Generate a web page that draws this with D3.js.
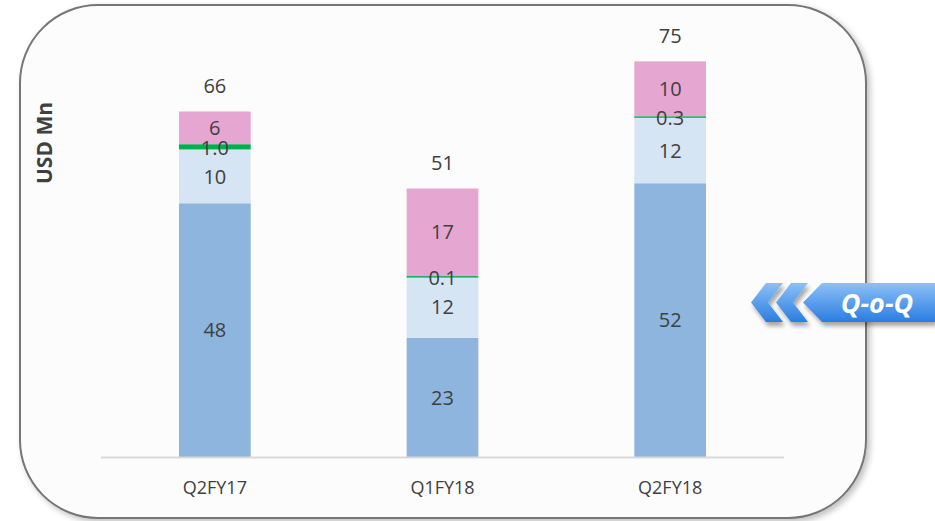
<!DOCTYPE html>
<html><head><meta charset="utf-8">
<script src="https://cdn.jsdelivr.net/npm/d3@7"></script>
<style>
html,body{margin:0;padding:0;background:#fff;}
svg{display:block;font-family:"Open Sans","Liberation Sans",sans-serif;}
</style></head>
<body>
<svg id="c" width="935" height="521"></svg>
<script>
const categories = ["Q2FY17", "Q1FY18", "Q2FY18"];
const seriesNames = ["s1", "s2", "s3", "s4"];
const s1 = [48.1, 22.6, 51.9];
const s2 = [10.2, 11.6, 12.4];
const s3 = [1.0, 0.1, 0.3];
const s4 = [6.2, 16.6, 10.4];
const decimals = [0, 0, 1, 0];
const colors = ["#8db5dd", "#d6e5f3", "#00b050", "#e5a6d2"];
const yTitle = "USD Mn";
const badgeText = "Q-o-Q";

const svg = d3.select("#c");
const defs = svg.append("defs");

// shadow filter
const f = defs.append("filter").attr("id","sh").attr("x","-10%").attr("y","-10%").attr("width","120%").attr("height","120%");
f.append("feGaussianBlur").attr("in","SourceAlpha").attr("stdDeviation",3).attr("result","b");
f.append("feOffset").attr("in","b").attr("dx",3).attr("dy",3).attr("result","o");
f.append("feComponentTransfer").attr("in","o").attr("result","o2").append("feFuncA").attr("type","linear").attr("slope",0.25);
const fm = f.append("feMerge"); fm.append("feMergeNode").attr("in","o2"); fm.append("feMergeNode").attr("in","SourceGraphic");

// frame
svg.append("rect").attr("x",20).attr("y",5).attr("width",846).attr("height",513)
  .attr("rx",78).attr("ry",78).attr("fill","#fcfcfc").attr("stroke","#767676").attr("stroke-width",2)
  .attr("filter","url(#sh)");

const x = d3.scaleBand().domain(categories).range([101, 784]).paddingInner(0.685).paddingOuter(0.3425);
const y = d3.scaleLinear().domain([0, 80]).range([457, 35]);

const data = categories.map((c,i)=>({cat:c, s1:s1[i], s2:s2[i], s3:s3[i], s4:s4[i]}));
const stack = d3.stack().keys(seriesNames)(data);

const g = svg.append("g");
stack.forEach((layer, li) => {
  g.selectAll(null).data(layer).enter().append("rect")
    .attr("x", d => x(d.data.cat))
    .attr("width", x.bandwidth())
    .attr("y", d => y(d[1]))
    .attr("height", d => Math.max(y(d[0]) - y(d[1]), li===2 ? 1.5 : 0))
    .attr("fill", colors[li]);
});

// axis baseline
svg.append("line").attr("x1",101).attr("x2",784).attr("y1",457.5).attr("y2",457.5)
  .attr("stroke","#d9d9d9").attr("stroke-width",2);

// segment labels
stack.forEach((layer, li) => {
  g.selectAll(null).data(layer).enter().append("text")
    .attr("x", d => x(d.data.cat) + x.bandwidth()/2)
    .attr("y", d => (y(d[0]) + y(d[1]))/2 + (li===2 ? 1 : 0))
    .attr("dy","0.36em")
    .attr("text-anchor","middle")
    .attr("font-size",20)
    .attr("fill","#404040")
    .text(d => (d[1]-d[0]).toFixed(decimals[li]));
});

// totals
g.selectAll(null).data(data).enter().append("text")
  .attr("x", d => x(d.cat) + x.bandwidth()/2)
  .attr("y", d => y(d.s1+d.s2+d.s3+d.s4) - 26)
  .attr("dy","0.36em")
  .attr("text-anchor","middle")
  .attr("font-size",20)
  .attr("fill","#404040")
  .text(d => Math.round(d.s1+d.s2+d.s3+d.s4));

// x axis labels
const xa = svg.append("g").attr("transform","translate(0,457)")
  .call(d3.axisBottom(x).tickSize(0).tickPadding(24));
xa.select(".domain").remove();
xa.selectAll("text").attr("font-size",18).attr("fill","#404040").attr("font-family","'Open Sans','Liberation Sans',sans-serif");

// y title
svg.append("text").attr("transform","translate(44,143) rotate(-90)")
  .attr("text-anchor","middle").attr("dy","0.36em").attr("font-size",21).attr("font-weight","bold").attr("fill","#404040")
  .text(yTitle);

// badge
const grad = defs.append("linearGradient").attr("id","bg").attr("x1",0).attr("y1",0).attr("x2",0).attr("y2",1);
grad.append("stop").attr("offset","0%").attr("stop-color","#8cc0f7");
grad.append("stop").attr("offset","100%").attr("stop-color","#2a7de0");
const bf = defs.append("filter").attr("id","bsh").attr("x","-20%").attr("y","-20%").attr("width","140%").attr("height","160%");
bf.append("feGaussianBlur").attr("in","SourceAlpha").attr("stdDeviation",2).attr("result","b");
bf.append("feOffset").attr("in","b").attr("dx",2).attr("dy",4).attr("result","o");
bf.append("feComponentTransfer").attr("in","o").attr("result","o2").append("feFuncA").attr("type","linear").attr("slope",0.35);
const bm = bf.append("feMerge"); bm.append("feMergeNode").attr("in","o2"); bm.append("feMergeNode").attr("in","SourceGraphic");

const bg = svg.append("g").attr("filter","url(#bsh)");
bg.append("path").attr("d","M822,283 L935,283 L935,322 L822,322 L803,302.5 Z").attr("fill","url(#bg)");
bg.append("path").attr("d","M766,283 L783,283 L768,302.5 L783,322 L766,322 L751,302.5 Z").attr("fill","url(#bg)");
bg.append("path").attr("d","M791,283 L808,283 L793,302.5 L808,322 L791,322 L776,302.5 Z").attr("fill","url(#bg)");
svg.append("text").attr("x",877).attr("y",303).attr("dy","0.36em").attr("text-anchor","middle")
  .attr("font-size",27).attr("font-style","italic").attr("font-weight","bold").attr("fill","#fff")
  .text(badgeText);
</script>
</body></html>
